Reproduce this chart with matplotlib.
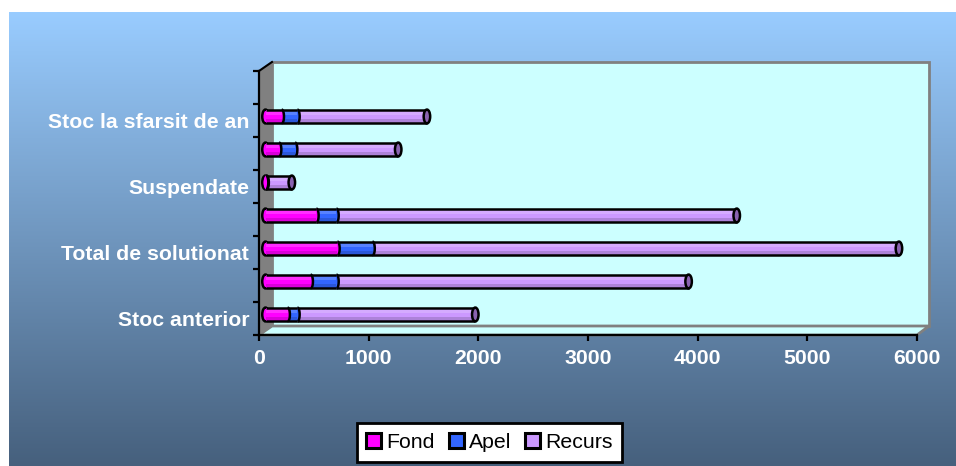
import numpy as np
import matplotlib
matplotlib.use('Agg')
import matplotlib.pyplot as plt
from matplotlib.patches import Ellipse, Polygon, Patch
from matplotlib.transforms import ScaledTranslation
from matplotlib.colors import to_rgb

plt.rcParams['font.family'] = ['Liberation Sans', 'DejaVu Sans']

# Values
categories = ['Stoc anterior', '', 'Total de solutionat', '', 'Suspendate', '', 'Stoc la sfarsit de an']
fond = [202, 412, 656, 464, 5, 124, 148]
apel = [89, 235, 320, 183, 5, 146, 143]
recurs = [1622, 3211, 4800, 3650, 230, 940, 1181]
x_ticks = [0, 1000, 2000, 3000, 4000, 5000, 6000]
series_names = ['Fond', 'Apel', 'Recurs']
series_colors = ['#ff00ff', '#3366ff', '#cc99ff']
cap_color = '#8a62b0'

W, H = 956, 466
fig = plt.figure(figsize=(W / 100, H / 100), dpi=100, facecolor='white')

# Background with gradient, in pixel coordinates
bg = fig.add_axes([0, 0, 1, 1])
top = np.array([153, 204, 255]) / 255
bottom = np.array([70, 96, 125]) / 255
t = np.linspace(0, 1, 256)[:, None, None]
grad = top * (1 - t) + bottom * t
bg.imshow(grad, extent=[9, W, H, 12], aspect='auto', interpolation='bilinear')
bg.set_xlim(0, W)
bg.set_ylim(H, 0)
bg.axis('off')

# 3D box walls
bg.add_patch(Polygon([(272, 62), (929, 62), (929, 326), (272, 326)], fc='#ccffff', ec='#808080', lw=2))
bg.add_patch(Polygon([(272, 326), (929, 326), (917, 335), (259, 335)], fc='#ccffff', ec='#808080', lw=2))
bg.add_patch(Polygon([(259, 71), (272, 62), (272, 326), (259, 335)], fc='#808080', ec='#808080', lw=1))
bg.plot([259, 272], [71, 62], color='black', lw=1.5)

# Main axes sits on the front plane of the box
ax = fig.add_axes([259 / W, 1 - 335 / H, (917 - 259) / W, (335 - 71) / H])
ax.patch.set_visible(False)

shift = ax.transData + ScaledTranslation(6.5 / 100, 4 / 100, fig.dpi_scale_trans)
y = np.arange(len(categories)) + 0.5
bar_h = 0.42
cap_w = 6.5 / (658 / 6000)
sep_w = 4.5 / (658 / 6000)
edge = 1.8

# lanes of the cylinder shading: offset from centre, height, colour factor
lanes = [(0.32, 0.36, 1.12), (-0.08, 0.44, 1.0), (-0.35, 0.30, 0.85)]
theta = np.linspace(-np.pi / 2, np.pi / 2, 30)


def shade(color, f):
    c = np.array(to_rgb(color))
    if f > 1:
        return tuple(c + (1 - c) * (f - 1) * 1.5)
    return tuple(c * f)


starts = [np.zeros(7), np.array(fond, float), np.array(fond, float) + np.array(apel)]
values = [fond, apel, recurs]

# left closing cap sits under the first segment
for yi in y:
    ax.add_patch(Ellipse((0, yi), cap_w, bar_h, fc=series_colors[0], ec='black', lw=edge,
                         transform=shift, zorder=2.5))

# right to left, so each segment's rounded end lies over the next one
for k in (2, 1, 0):
    col = series_colors[k]
    z = 3 + (2 - k)
    ends = starts[k] + np.array(values[k])
    for yi, e in zip(y, ends):
        if k < 2:
            ax.add_patch(Ellipse((e, yi), sep_w, bar_h, fc=col, ec='none',
                                 transform=shift, zorder=z))
            ax.plot(e + sep_w / 2 * np.cos(theta), yi + bar_h / 2 * np.sin(theta), color='black',
                    lw=edge, solid_capstyle='butt', transform=shift, zorder=z + 0.3)
    for off, hh, f in lanes:
        ax.barh(y + off * bar_h, values[k], left=starts[k], height=hh * bar_h,
                color=shade(col, f), transform=shift, zorder=z + 0.1)
    ax.hlines([y - bar_h / 2, y + bar_h / 2], [starts[k], starts[k]], [ends, ends], color='black',
              lw=edge, transform=shift, zorder=z + 0.2)
    if k == 2:
        # dark inner face of the far end
        for yi, e in zip(y, ends):
            ax.add_patch(Ellipse((e, yi), cap_w, bar_h, fc=cap_color, ec='black', lw=edge,
                                 transform=shift, zorder=z + 0.25))

ax.set_xlim(0, 6000)
ax.set_ylim(0, 8)

for s in ('top', 'right'):
    ax.spines[s].set_visible(False)
for s in ('left', 'bottom'):
    ax.spines[s].set_linewidth(1.6)
    ax.spines[s].set_color('black')

ax.set_xticks(x_ticks)
ax.set_yticks(np.arange(9))
ax.set_yticklabels([])
ax.set_yticks(y, minor=True)
ax.set_yticklabels(categories, minor=True)
ax.tick_params(axis='both', which='major', length=4, width=1.6, color='black')
ax.tick_params(axis='y', which='minor', length=0, pad=7)
ax.tick_params(axis='x', pad=6)
for lab in ax.get_xticklabels() + ax.get_yticklabels(minor=True):
    lab.set_color('white')
    lab.set_fontweight('bold')
    lab.set_fontsize(15.3)

handles = [Patch(fc=c, ec='black', lw=2.2) for c in series_colors]
leg = fig.legend(handles, series_names, ncol=3, loc='center', bbox_to_anchor=(489.5 / W, 1 - 442.5 / H),
                 fontsize=15.3, frameon=True, fancybox=False, edgecolor='black', facecolor='white',
                 framealpha=1, handlelength=0.7, handleheight=0.7, handletextpad=0.25,
                 columnspacing=0.65, borderpad=0.45, labelspacing=0, borderaxespad=0)
leg.get_frame().set_linewidth(2)

fig.savefig('out.png', dpi=100)
